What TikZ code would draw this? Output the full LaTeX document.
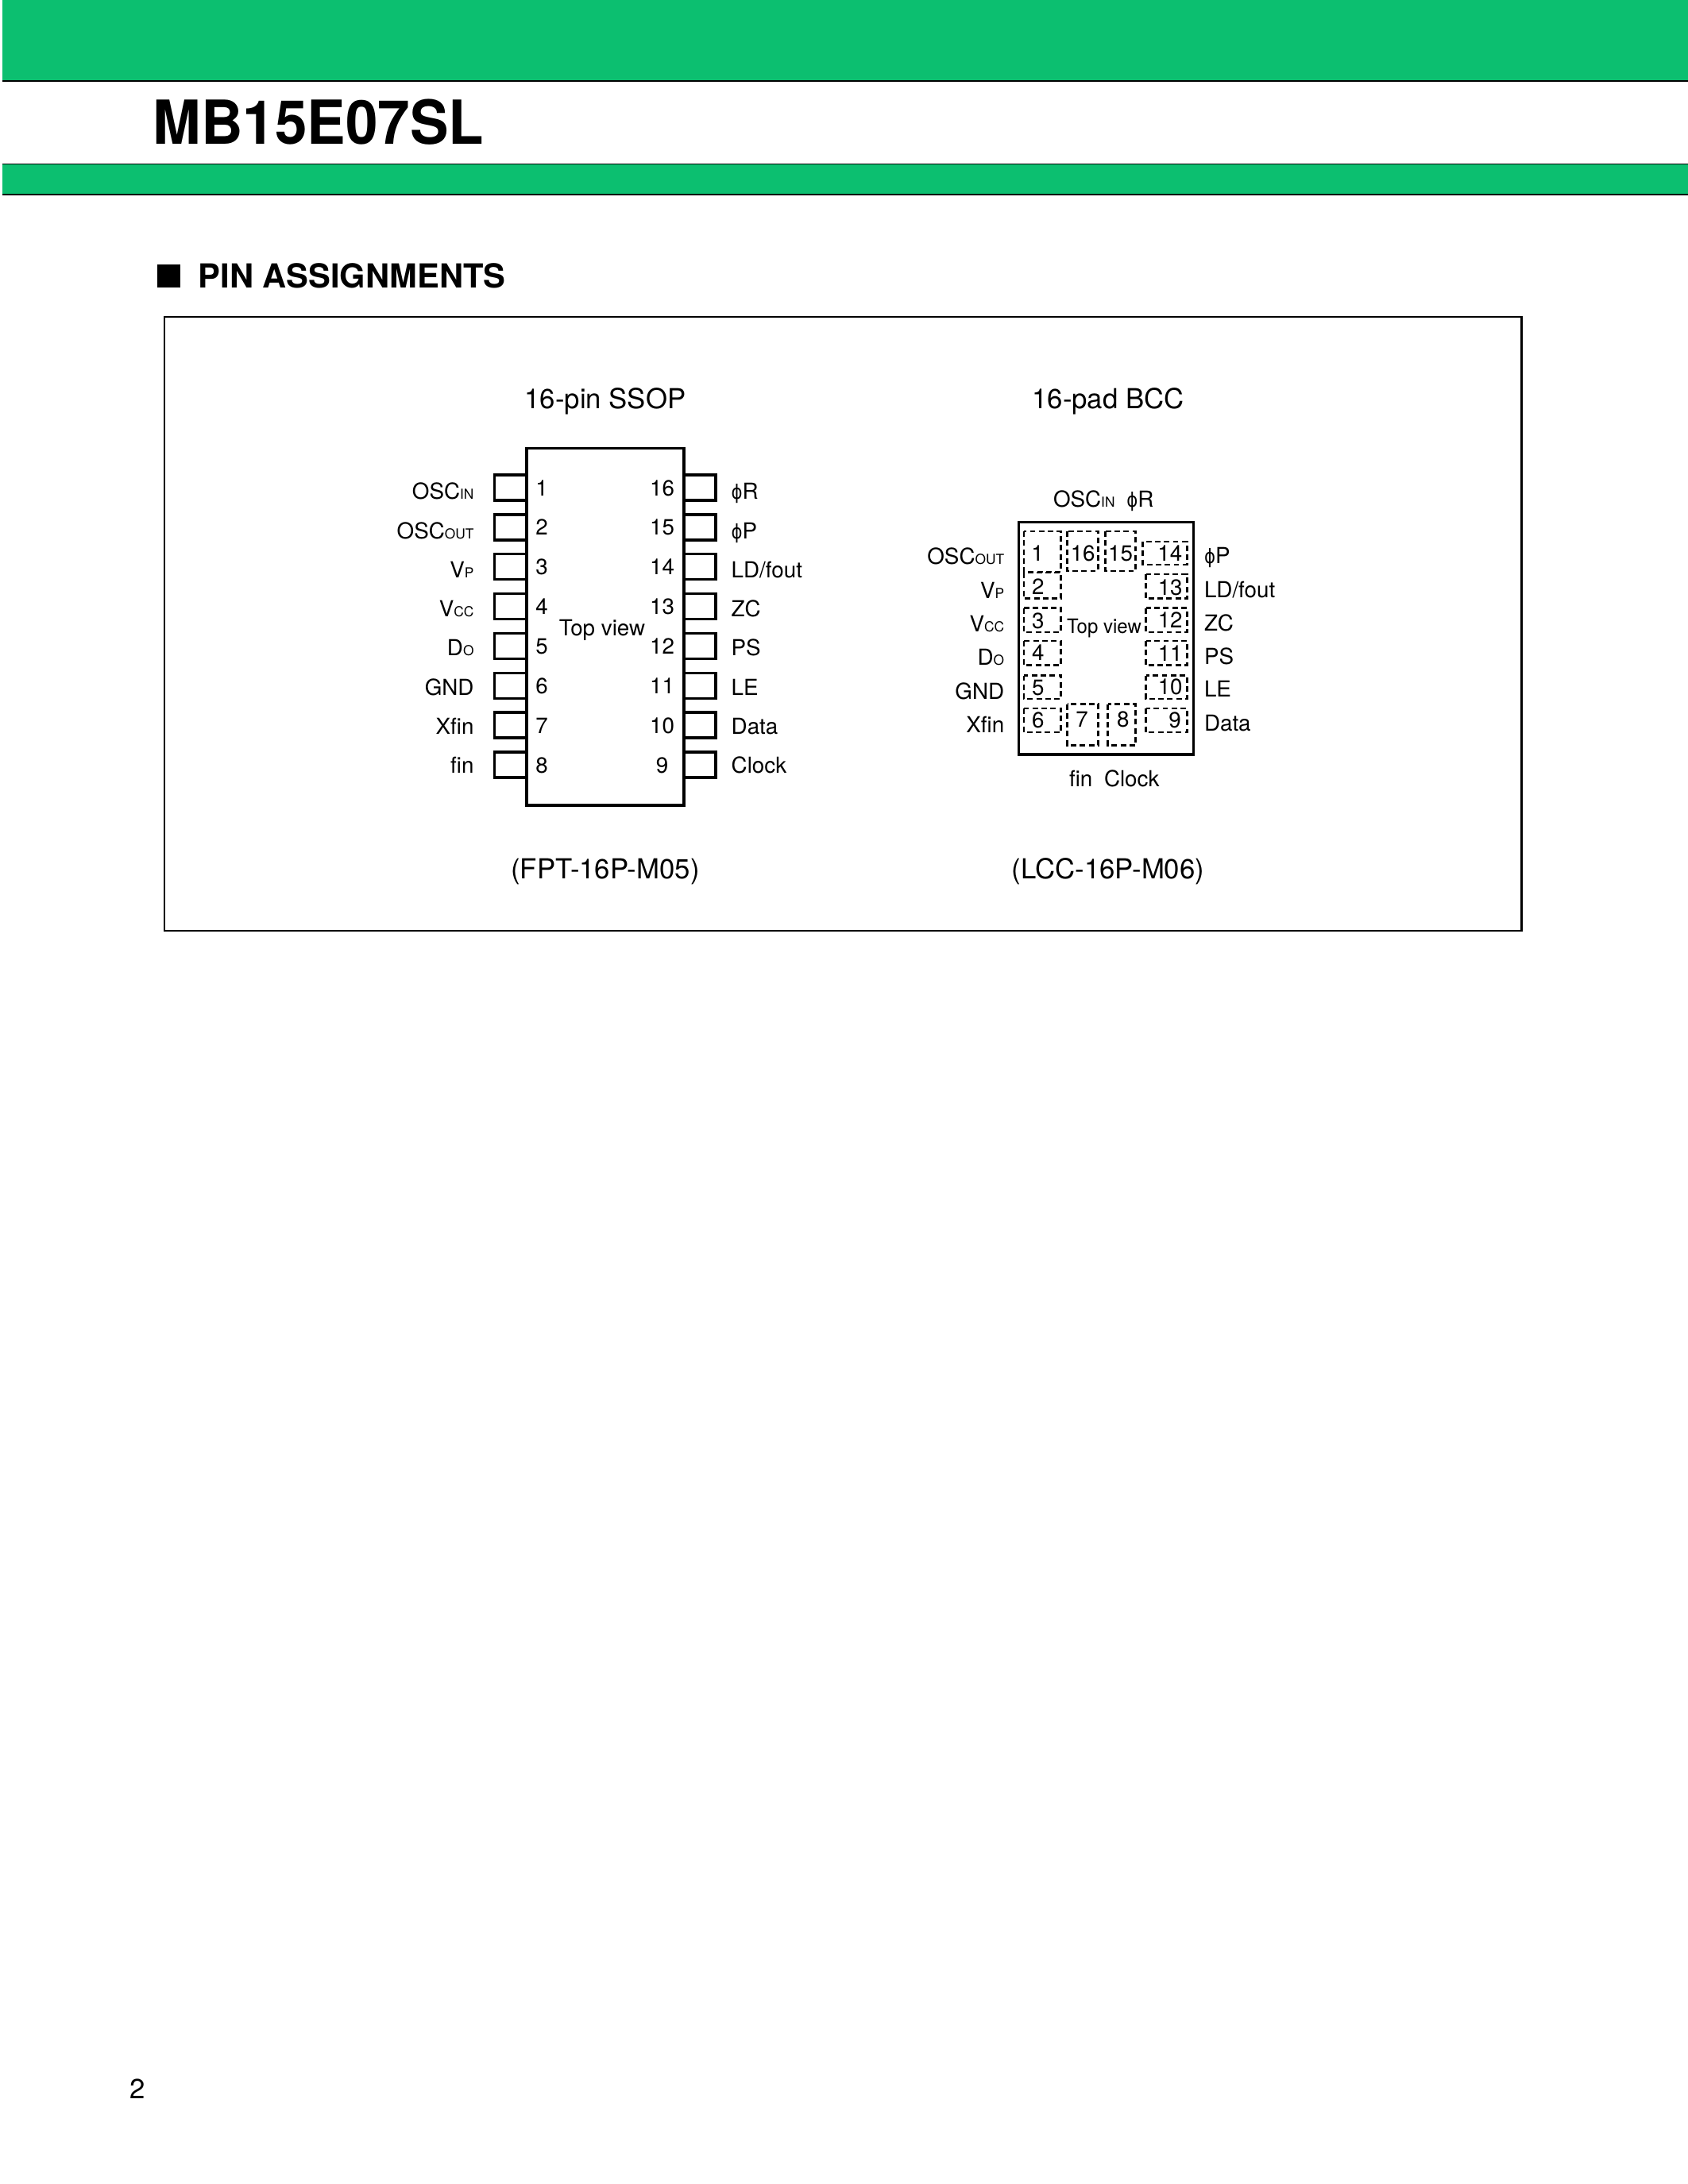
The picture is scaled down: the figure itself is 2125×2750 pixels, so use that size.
\documentclass[tikz,border=0pt]{standalone}
\usepackage{fontspec}
\setmainfont{TeX Gyre Heros}
\newfontfamily\grkfont{DejaVu Sans}
\definecolor{bandgreen}{HTML}{0CBF70}
\newcommand{\sm}[1]{{\fontsize{5bp}{5bp}\selectfont #1}}
\newcommand{\ph}{{\grkfont\fontsize{6bp}{6bp}\selectfont\scalebox{1.02}[1.2]{ϕ}}}
\tikzset{
  lbl/.style={inner sep=0pt,outer sep=0pt,font=\fontsize{8bp}{8bp}\selectfont},
  big/.style={inner sep=0pt,outer sep=0pt,font=\fontsize{10bp}{10bp}\selectfont},
  band/.style={fill=bandgreen,draw=none},
  rule/.style={draw=black,line width=.55bp},
  frameline/.style={draw=black,line width=.6bp},
  chip/.style={draw=black,line width=1bp},
  pinbox/.style={draw=black,line width=1bp},
  padbox/.style={draw=black,line width=.8bp,dash pattern=on 2bp off 1.25bp},
}
\begin{document}
\begin{tikzpicture}[x=0.288bp,y=-0.288bp]
\useasboundingbox (0,0) rectangle (2125,2750);
\fill[white] (0,0) rectangle (2125,2750);
% header
\path[band] (3,0) rectangle (2125,101.5);
\path[band] (3,206) rectangle (2125,245);
\draw[rule] (3,102) -- (2125,102);
\draw[rule,line width=.3bp] (3,206.5) -- (2125,206.5);
\draw[rule] (3,245) -- (2125,245);
\node[inner sep=0pt,anchor=base west,font=\bfseries\fontsize{22bp}{22bp}\selectfont] (title) at (192,181.5) {\scalebox{.953}[1]{MB15E07SL}};
\fill[black] (197.5,333) rectangle (227,362);
\node[inner sep=0pt,anchor=base west,font=\bfseries\fontsize{12bp}{12bp}\selectfont] (head) at (249,362.5) {PIN ASSIGNMENTS};
\draw[frameline] (207,399) rectangle (1915.5,1172);
% SSOP
\node[big,anchor=base] (ssop) at (762,514.7) {16-pin SSOP};
\node[big,anchor=base] (fpt) at (762,1106.5) {(FPT-16P-M05)};
\node[big,anchor=base] (bcc) at (1395,514.7) {16-pad BCC};
\node[big,anchor=base] (lcc) at (1395,1106.5) {(LCC-16P-M06)};
\draw[chip] (663,564.5) rectangle (861,1014);
\foreach \i in {0,...,7}{
  \draw[pinbox] (663,598+49.85*\i) -- (622.7,598+49.85*\i) -- (622.7,630+49.85*\i) -- (663,630+49.85*\i);
  \draw[pinbox] (861,598+49.85*\i) -- (901,598+49.85*\i) -- (901,630+49.85*\i) -- (861,630+49.85*\i);
}
\foreach \i/\lab in {0/{OSC\sm{IN}},1/{OSC\sm{OUT}},2/{V\sm{P}},3/{V\sm{CC}},4/{D\sm{O}},5/{GND},6/{Xfin},7/{fin}}
  \node[lbl,anchor=base east] (sl\i) at (596.5,628.7+49.3*\i) {\lab};
\foreach \i/\lab in {0/{\ph R},1/{\ph P},2/{LD/fout},3/{ZC},4/{PS},5/{LE},6/{Data},7/{Clock}}
  \node[lbl,anchor=base west] (sr\i) at (920.7,628.7+49.3*\i) {\lab};
\foreach \i in {0,...,7}{
  \pgfmathtruncatemacro{\n}{\i+1}
  \node[lbl,anchor=base] (sn\n) at (682,624+49.87*\i) {\n};
  \pgfmathtruncatemacro{\m}{16-\i}
  \node[lbl,anchor=base] (sn\m) at (833.5,624+49.87*\i) {\m};
}
\node[lbl,anchor=base] (stv) at (758,800) {Top view};
% BCC
\draw[chip] (1282.5,657.5) rectangle (1502.5,950);
\node[lbl,anchor=base west] (bi) at (1326,638) {OSC\sm{IN}};
\node[lbl,anchor=base west] (br) at (1418.3,638) {\ph R};
\node[lbl,anchor=base west] (bf) at (1346,990) {fin};
\node[lbl,anchor=base west] (bc) at (1390,990) {Clock};
\foreach \k/\yy/\lab in {a/710/{OSC\sm{OUT}},b/753/{V\sm{P}},c/795.5/{V\sm{CC}},d/837.5/{D\sm{O}},e/880/{GND},f/922.5/{Xfin}}
  \node[lbl,anchor=base east] (bl\k) at (1264.2,\yy) {\lab};
\foreach \k/\yy/\lab in {a/709.5/{\ph P},b/752.5/{LD/fout},c/794.5/{ZC},d/836/{PS},e/877/{LE},f/920/{Data}}
  \node[lbl,anchor=base west] (brr\k) at (1516,\yy) {\lab};
\node[anchor=base,inner sep=0pt,font=\fontsize{7.2bp}{7.2bp}\selectfont] (btv) at (1390,797) {\scalebox{.96}[1]{Top view}};
% pads: number/x0/y0/x1/y1/textx/texty
\foreach \n/\xa/\ya/\xb/\yb/\tx/\ty in {
  1/1287.5/669/1334/720/1305/705.8,
  16/1342/669/1380.7/719/1362/705.8,
  15/1390/669/1428.3/719/1409.3/705.8,
  14/1437.3/682/1492.7/711/1471.7/705.8,
  2/1287.5/721/1334/753.6/1305.7/747,
  3/1287.5/765.6/1334/796/1305.7/790,
  4/1287.5/807/1334/837.5/1305.7/830.8,
  5/1287.5/850.5/1334/880/1305.7/874,
  6/1287.5/892/1334/922/1305.7/915.6,
  13/1441/723/1492.7/753.6/1472/748,
  12/1441/765.6/1492.7/796/1472/789,
  11/1441/807/1492.7/837.5/1472/831.7,
  10/1441/850.5/1492.7/880/1472/873,
  9/1441/892/1492.7/922/1478/915.6,
  7/1342/886.6/1380.7/938.4/1361/914,
  8/1393.3/886.6/1428.3/938.4/1412.7/914}{
  \draw[padbox] (\xa+1.5,\ya) rectangle (\xb+1.5,\yb);
  \node[lbl,anchor=base] (bn\n) at (\tx+1.2,\ty+1) {\n};
}
\node[big,anchor=base west] (page) at (163.5,2642) {2};
\end{tikzpicture}
\end{document}
